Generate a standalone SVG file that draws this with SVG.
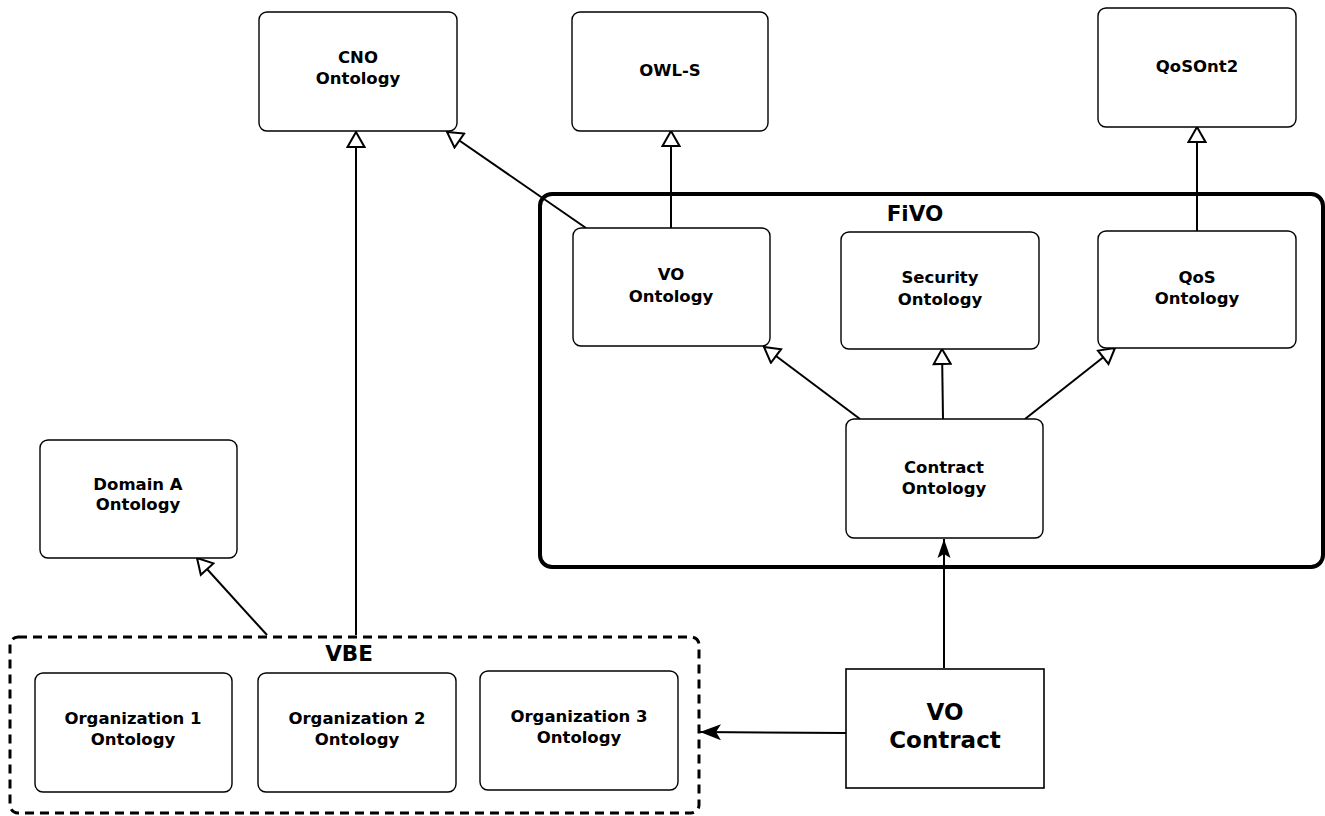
<svg xmlns="http://www.w3.org/2000/svg" width="1325" height="816" viewBox="0 0 1325 816">
  <style>
    .box { fill: #fff; stroke: #000; stroke-width: 1.4; }
    .lbl { font-family: "DejaVu Sans", "Liberation Sans", sans-serif; font-weight: bold; font-size: 16.5px; text-anchor: middle; fill: #000; }
    .big { font-size: 23px; }
    .title { font-size: 21.5px; }
    .edge { fill: none; stroke: #000; stroke-width: 2; }
  </style>
  <defs>
    <marker id="hollow" markerUnits="userSpaceOnUse" viewBox="0 0 20 20" refX="17" refY="10" markerWidth="20" markerHeight="20" orient="auto">
      <path d="M2,1.5 L17,10 L2,18.5 Z" fill="#fff" stroke="#000" stroke-width="2"/>
    </marker>
    <marker id="solid" markerUnits="userSpaceOnUse" viewBox="0 0 22 18" refX="21" refY="9" markerWidth="22" markerHeight="18" orient="auto">
      <path d="M0,1 L21,9 L0,17 L5,9 Z" fill="#000"/>
    </marker>
    <marker id="solidSmall" markerUnits="userSpaceOnUse" viewBox="0 0 20 14" refX="19" refY="7" markerWidth="20" markerHeight="14" orient="auto">
      <path d="M0,0.5 L19,7 L0,13.5 L4,7 Z" fill="#000"/>
    </marker>
  </defs>

  <!-- containers -->
  <g id="fivo">
    <rect x="540" y="194" width="783" height="373" rx="12" fill="none" stroke="#000" stroke-width="4"/>
    <text class="lbl title" x="915" y="221">FiVO</text>
  </g>
  <g id="vbe">
    <rect x="10" y="637" width="689" height="176" rx="8" fill="none" stroke="#000" stroke-width="3" stroke-dasharray="9,6"/>
    <text class="lbl title" x="349" y="661">VBE</text>
  </g>

  <!-- connectors -->
  <g id="connectors">
    <line class="edge" x1="356" y1="635" x2="356" y2="132" marker-end="url(#hollow)"/>
    <line class="edge" x1="586" y1="228" x2="447" y2="132" marker-end="url(#hollow)"/>
    <line class="edge" x1="671" y1="228" x2="671" y2="131" marker-end="url(#hollow)"/>
    <line class="edge" x1="1197" y1="231" x2="1197" y2="127" marker-end="url(#hollow)"/>
    <line class="edge" x1="860" y1="419" x2="764" y2="347" marker-end="url(#hollow)"/>
    <line class="edge" x1="943" y1="419" x2="942" y2="349" marker-end="url(#hollow)"/>
    <line class="edge" x1="1025" y1="419" x2="1115" y2="348" marker-end="url(#hollow)"/>
    <line class="edge" x1="267" y1="635" x2="197" y2="558" marker-end="url(#hollow)"/>
    <line class="edge" x1="944" y1="668" x2="944" y2="539" marker-end="url(#solidSmall)"/>
    <line class="edge" x1="846" y1="733" x2="700" y2="732" stroke-width="3" marker-end="url(#solid)"/>
  </g>

  <!-- nodes -->
  <g id="cno">
    <rect class="box" x="259" y="12" width="198" height="119" rx="8"/>
    <text class="lbl" x="358" y="63">CNO</text>
    <text class="lbl" x="358" y="84">Ontology</text>
  </g>
  <g id="owls">
    <rect class="box" x="572" y="12" width="196" height="119" rx="8"/>
    <text class="lbl" x="670" y="76">OWL-S</text>
  </g>
  <g id="qosont2">
    <rect class="box" x="1098" y="8" width="198" height="119" rx="8"/>
    <text class="lbl" x="1197" y="72">QoSOnt2</text>
  </g>
  <g id="vo-ontology">
    <rect class="box" x="573" y="228" width="197" height="118" rx="8"/>
    <text class="lbl" x="671" y="280">VO</text>
    <text class="lbl" x="671" y="302">Ontology</text>
  </g>
  <g id="security-ontology">
    <rect class="box" x="841" y="232" width="198" height="117" rx="8"/>
    <text class="lbl" x="940" y="283">Security</text>
    <text class="lbl" x="940" y="305">Ontology</text>
  </g>
  <g id="qos-ontology">
    <rect class="box" x="1098" y="231" width="198" height="117" rx="8"/>
    <text class="lbl" x="1197" y="283">QoS</text>
    <text class="lbl" x="1197" y="304">Ontology</text>
  </g>
  <g id="contract-ontology">
    <rect class="box" x="846" y="419" width="197" height="119" rx="8"/>
    <text class="lbl" x="944" y="473">Contract</text>
    <text class="lbl" x="944" y="494">Ontology</text>
  </g>
  <g id="domain-a">
    <rect class="box" x="40" y="440" width="197" height="118" rx="8"/>
    <text class="lbl" x="138" y="490">Domain A</text>
    <text class="lbl" x="138" y="510">Ontology</text>
  </g>
  <g id="org1">
    <rect class="box" x="35" y="673" width="197" height="119" rx="8"/>
    <text class="lbl" x="133" y="724">Organization 1</text>
    <text class="lbl" x="133" y="745">Ontology</text>
  </g>
  <g id="org2">
    <rect class="box" x="258" y="673" width="198" height="119" rx="8"/>
    <text class="lbl" x="357" y="724">Organization 2</text>
    <text class="lbl" x="357" y="745">Ontology</text>
  </g>
  <g id="org3">
    <rect class="box" x="480" y="671" width="198" height="119" rx="8"/>
    <text class="lbl" x="579" y="722">Organization 3</text>
    <text class="lbl" x="579" y="743">Ontology</text>
  </g>
  <g id="vo-contract">
    <rect x="846" y="669" width="198" height="119" fill="#fff" stroke="#000" stroke-width="1.6"/>
    <text class="lbl big" x="945" y="720">VO</text>
    <text class="lbl big" x="945" y="748">Contract</text>
  </g>
</svg>
